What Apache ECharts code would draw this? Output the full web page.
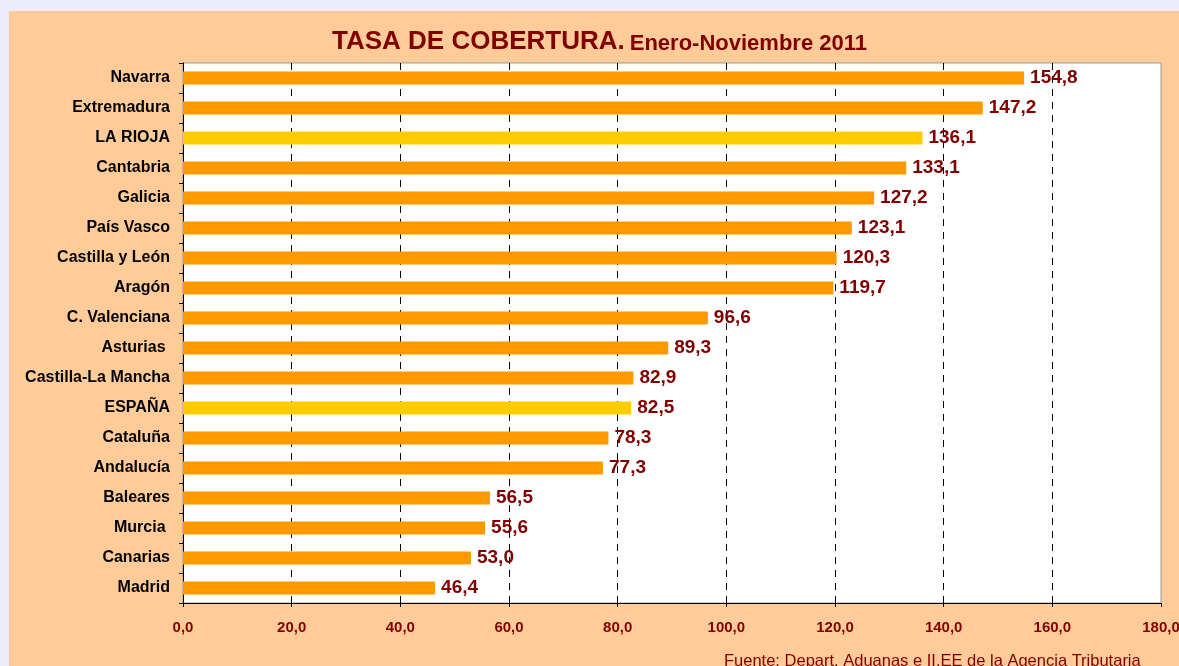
<!DOCTYPE html>
<html>
<head>
<meta charset="utf-8">
<script src="https://cdn.jsdelivr.net/npm/echarts@6/dist/echarts.min.js"></script>
<style>
  html, body { margin: 0; padding: 0; background: #ececfd; }
  #chart { width: 1179px; height: 666px; }
</style>
</head>
<body>
<div id="chart"></div>
<script>
// Tasa de cobertura por comunidad autónoma, enero-noviembre 2011
const regions = [
  'Navarra', 'Extremadura', 'LA RIOJA', 'Cantabria', 'Galicia', 'País Vasco',
  'Castilla y León', 'Aragón', 'C. Valenciana', 'Asturias ', 'Castilla-La Mancha',
  'ESPAÑA', 'Cataluña', 'Andalucía', 'Baleares', 'Murcia ', 'Canarias', 'Madrid'
];
const coverage = [
  154.8, 147.2, 136.1, 133.1, 127.2, 123.1,
  120.3, 119.7, 96.6, 89.3, 82.9,
  82.5, 78.3, 77.3, 56.5, 55.6, 53.0, 46.4
];
const highlighted = ['LA RIOJA', 'ESPAÑA'];

const ORANGE = '#ff9900';
const YELLOW = '#ffcc00';
const DARK_RED = '#800000';
const FONT = 'Liberation Sans, Arial, sans-serif';

const fmt = v => v.toFixed(1).replace('.', ',');

const chart = echarts.init(document.getElementById('chart'));

chart.setOption({
  animation: false,
  backgroundColor: '#ececfd',
  textStyle: { fontFamily: FONT },
  graphic: [
    {
      type: 'rect', z: -10, silent: true,
      shape: { x: 9, y: 11, width: 1170, height: 655 },
      style: { fill: '#ffcc99' }
    },
    {
      type: 'text', left: 724, top: 653, silent: true,
      style: {
        text: 'Fuente: Depart. Aduanas e II.EE de la Agencia Tributaria',
        fill: DARK_RED, font: '16.5px ' + FONT
      }
    }
  ],
  title: {
    left: 327, top: 24,
    text: '{a|TASA DE COBERTURA.} {b|Enero-Noviembre 2011}',
    textStyle: {
      rich: {
        a: { fontSize: 26, fontWeight: 'bold', color: DARK_RED, fontFamily: FONT },
        b: { fontSize: 22, fontWeight: 'bold', color: DARK_RED, fontFamily: FONT, padding: [3, 0, 0, 0] }
      }
    }
  },
  grid: {
    left: 183, top: 63, width: 978, height: 540,
    outerBoundsMode: 'none',
    show: true, backgroundColor: '#ffffff',
    borderColor: '#999999', borderWidth: 1
  },
  xAxis: {
    type: 'value', min: 0, max: 180, interval: 20,
    axisLine: { show: true, lineStyle: { color: '#000', width: 1 } },
    axisTick: { show: true, length: 4, lineStyle: { color: '#000' } },
    splitLine: {
      show: true, showMinLine: false, showMaxLine: false,
      lineStyle: { color: '#000', type: [7, 6], width: 1 }
    },
    axisLabel: {
      formatter: fmt, color: DARK_RED, fontWeight: 'bold', fontSize: 15,
      margin: 17, fontFamily: FONT
    }
  },
  yAxis: {
    type: 'category', inverse: true, data: regions,
    axisLine: { show: true, lineStyle: { color: '#000', width: 1 } },
    axisTick: { show: true, length: 4, lineStyle: { color: '#000' } },
    axisLabel: {
      color: '#000', fontWeight: 'bold', fontSize: 16, margin: 13, fontFamily: FONT
    }
  },
  series: [{
    type: 'bar',
    barWidth: 13,
    data: coverage.map((v, i) => ({
      value: v,
      itemStyle: { color: highlighted.includes(regions[i]) ? YELLOW : ORANGE }
    })),
    label: {
      show: true, position: 'right', distance: 6,
      formatter: p => fmt(p.value),
      color: DARK_RED, fontWeight: 'bold', fontSize: 19, fontFamily: FONT
    }
  }]
});
</script>
</body>
</html>
